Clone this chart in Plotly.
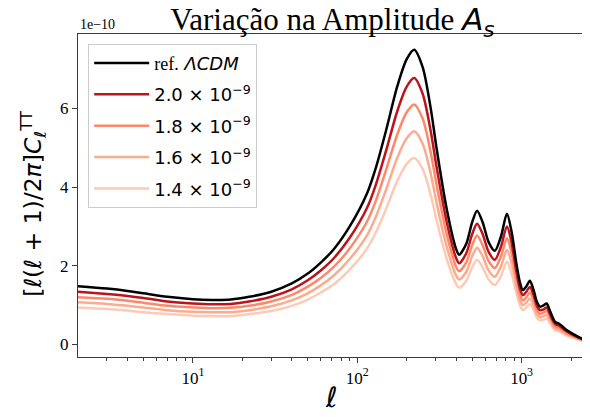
import plotly.graph_objects as go

# multipoles
ell = [2, 3, 4, 5, 7, 10, 13, 17, 22, 30, 40, 50, 60, 72, 90, 115, 130, 150, 175, 200,
       222, 250, 280, 305, 350, 400, 417, 460, 500, 536, 580, 630, 687, 750, 814, 870,
       930, 980, 1018, 1070, 1123, 1180, 1240, 1297, 1360, 1420, 1480, 1540, 1600, 1700,
       1800, 1900, 2050, 2200, 2350, 2500]

# D_ell in units of 1e-10
ref_lcdm = [1.48, 1.42, 1.36, 1.30, 1.21, 1.15, 1.13, 1.14, 1.21, 1.34, 1.55, 1.80, 2.08, 2.42,
            3.00, 3.85, 4.50, 5.45, 6.55, 7.25, 7.49, 7.05, 6.00, 4.94, 3.45, 2.42, 2.28, 2.55,
            3.10, 3.40, 3.10, 2.60, 2.38, 2.75, 3.32, 2.85, 2.05, 1.55, 1.38, 1.48, 1.62, 1.40,
            1.08, 0.96, 0.99, 1.04, 0.88, 0.70, 0.57, 0.52, 0.43, 0.35, 0.27, 0.20, 0.14, 0.09]
as_20 = [1.34, 1.28, 1.23, 1.18, 1.09, 1.04, 1.02, 1.03, 1.09, 1.21, 1.40, 1.63, 1.88, 2.19,
         2.71, 3.48, 4.07, 4.93, 5.92, 6.55, 6.77, 6.37, 5.42, 4.47, 3.12, 2.19, 2.06, 2.31,
         2.80, 3.07, 2.80, 2.35, 2.15, 2.49, 3.00, 2.58, 1.85, 1.40, 1.25, 1.34, 1.46, 1.27,
         0.98, 0.87, 0.89, 0.94, 0.80, 0.63, 0.52, 0.47, 0.39, 0.32, 0.24, 0.18, 0.13, 0.08]
as_18 = [1.20, 1.16, 1.11, 1.06, 0.98, 0.94, 0.92, 0.93, 0.98, 1.09, 1.26, 1.47, 1.69, 1.97,
         2.44, 3.13, 3.66, 4.44, 5.33, 5.90, 6.10, 5.74, 4.88, 4.02, 2.81, 1.97, 1.86, 2.08,
         2.52, 2.77, 2.52, 2.12, 1.94, 2.24, 2.70, 2.32, 1.67, 1.26, 1.12, 1.20, 1.32, 1.14,
         0.88, 0.78, 0.81, 0.85, 0.72, 0.57, 0.46, 0.42, 0.35, 0.28, 0.22, 0.16, 0.11, 0.07]
as_16 = [1.07, 1.03, 0.98, 0.94, 0.87, 0.83, 0.82, 0.82, 0.87, 0.97, 1.12, 1.30, 1.50, 1.75,
         2.17, 2.78, 3.25, 3.94, 4.74, 5.24, 5.42, 5.10, 4.34, 3.57, 2.49, 1.75, 1.65, 1.84,
         2.24, 2.46, 2.24, 1.88, 1.72, 1.99, 2.40, 2.06, 1.48, 1.12, 1.00, 1.07, 1.17, 1.01,
         0.78, 0.69, 0.72, 0.75, 0.64, 0.51, 0.41, 0.38, 0.31, 0.25, 0.20, 0.14, 0.10, 0.07]
as_14 = [0.94, 0.90, 0.86, 0.82, 0.77, 0.73, 0.72, 0.72, 0.77, 0.85, 0.98, 1.14, 1.32, 1.53,
         1.90, 2.44, 2.85, 3.45, 4.15, 4.59, 4.74, 4.46, 3.80, 3.13, 2.18, 1.53, 1.44, 1.61,
         1.96, 2.15, 1.96, 1.65, 1.51, 1.74, 2.10, 1.80, 1.30, 0.98, 0.87, 0.94, 1.03, 0.89,
         0.68, 0.61, 0.63, 0.66, 0.56, 0.44, 0.36, 0.33, 0.27, 0.22, 0.17, 0.13, 0.09, 0.06]

series_names = ['<span style="font-family:Liberation Serif">ref.</span> <i>ΛCDM</i>',
                '2.0 × 10<sup>−9</sup>', '1.8 × 10<sup>−9</sup>',
                '1.6 × 10<sup>−9</sup>', '1.4 × 10<sup>−9</sup>']
series_values = [ref_lcdm, as_20, as_18, as_16, as_14]
series_colors = ['#000000', '#bc141a', '#fc8a6a', '#fcab8f', '#fdcab5']

x_tickvals = [10, 100, 1000]
x_ticktext = ['10<sup>1</sup>', '10<sup>2</sup>', '10<sup>3</sup>']
x_minor = [3, 4, 5, 6, 7, 8, 9, 20, 30, 40, 50, 60, 70, 80, 90,
           200, 300, 400, 500, 600, 700, 800, 900, 2000]
y_tickvals = [0, 2, 4, 6]

fig = go.Figure()
# draw pale curves first so the reference lies on top; legend order via legendrank
for i in reversed(range(len(series_names))):
    fig.add_trace(go.Scatter(
        x=ell, y=series_values[i], mode='lines', name=series_names[i],
        legendgroup=str(i), legendrank=i + 1,
        line=dict(color=series_colors[i], width=2.5, shape='spline', smoothing=0.8),
    ))

axis_common = dict(showline=True, linecolor='#3a3a3a', linewidth=1.2, mirror=True,
                   showgrid=False, zeroline=False, ticks='outside', tickcolor='#3a3a3a',
                   tickwidth=1, tickfont=dict(family='Liberation Serif', size=17, color='black'))

# the page body adds an 8px offset, so the figure is 8px smaller on each side
W, H = 582, 409
fig.update_layout(
    width=W, height=H,
    margin=dict(l=70, r=3, t=26, b=60, autoexpand=False),
    paper_bgcolor='white', plot_bgcolor='white',
    showlegend=True,
    title=dict(text='Variação na Amplitude <span style="font-family:DejaVu Sans"><i>A<sub>s</sub></i></span>',
               font=dict(family='Liberation Serif', size=31, color='black'),
               x=0.5, xref='paper', xanchor='center', y=1 - 22 / H, yref='container', yanchor='bottom'),
    legend=dict(x=0.02, y=0.97, xanchor='left', yanchor='top',
                bgcolor='rgba(255,255,255,0.8)', bordercolor='#cccccc', borderwidth=1,
                font=dict(family='DejaVu Sans', size=18, color='black'),
                itemwidth=55, traceorder='grouped', tracegroupgap=5),
    xaxis=dict(type='log', range=[0.30103, 3.39794], tickvals=x_tickvals, ticktext=x_ticktext,
               ticklen=5,
               minor=dict(tickvals=x_minor, ticks='outside', ticklen=3, tickcolor='#3a3a3a', tickwidth=0.8),
               **axis_common),
    yaxis=dict(range=[-0.32, 7.89], tickvals=y_tickvals, ticklen=5, **axis_common),
)

fig.add_annotation(text='1e−10', xref='paper', yref='paper', x=0.0, y=1.0,
                   xanchor='left', yanchor='bottom', showarrow=False,
                   font=dict(family='Liberation Serif', size=14, color='black'))
fig.add_annotation(text='[<i>ℓ</i>(<i>ℓ</i> + 1)/2<i>π</i>]<i>C</i><sub><i>ℓ</i></sub><sup>TT</sup>',
                   xref='paper', yref='paper', x=-0.088, y=0.475, textangle=-90,
                   xanchor='center', yanchor='middle', showarrow=False,
                   font=dict(family='DejaVu Sans', size=23.5, color='black'))
fig.add_annotation(text='<i>ℓ</i>', xref='paper', yref='paper', x=0.499, y=-0.124,
                   xanchor='center', yanchor='middle', showarrow=False,
                   font=dict(family='DejaVu Sans', size=28, color='black'))

fig.write_html('out.html')
